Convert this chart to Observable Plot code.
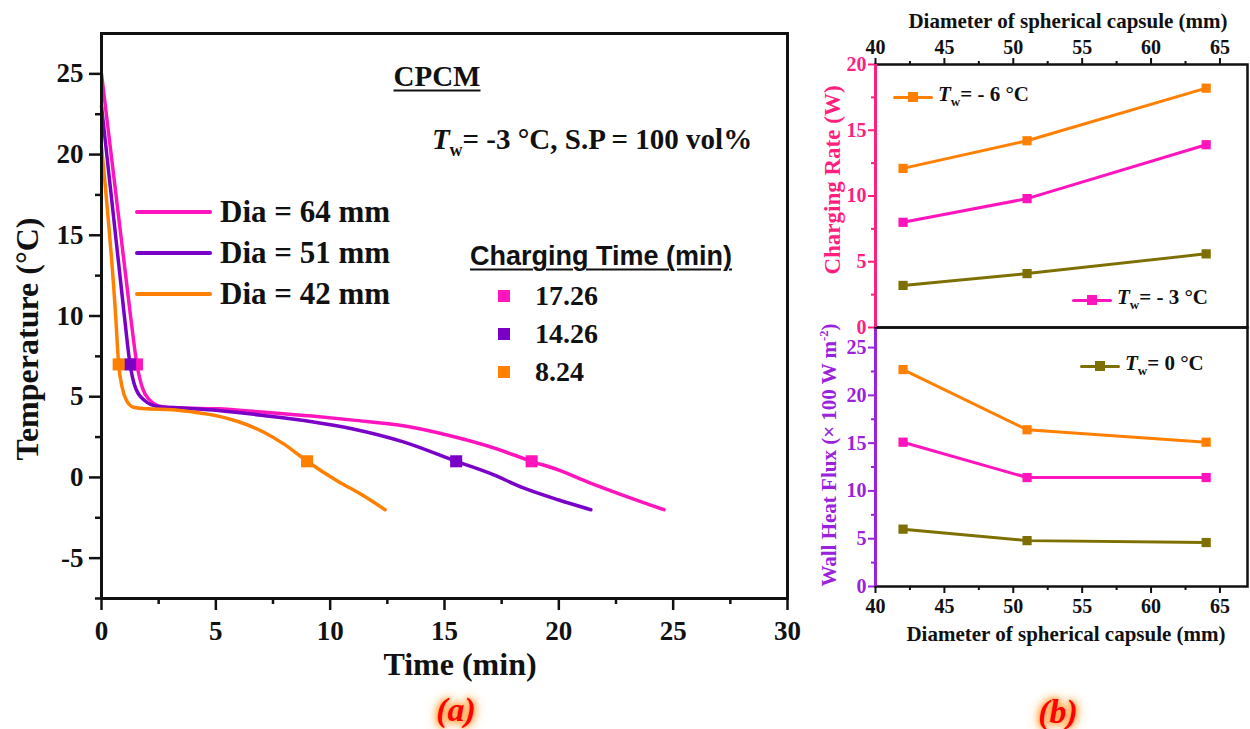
<!DOCTYPE html>
<html>
<head>
<meta charset="utf-8">
<script src="https://cdn.jsdelivr.net/npm/d3@7"></script>
<script src="https://cdn.jsdelivr.net/npm/@observablehq/plot@0.6"></script>
<style>
  body { margin: 0; background: #fff; }
  #fig { position: relative; width: 1250px; height: 729px; overflow: hidden;
         font-family: "Liberation Serif", "Times New Roman", serif; font-weight: bold; color: #111; }
  .panel { position: absolute; left: 0; top: 0; }
  .panel svg text { font-family: "Liberation Serif", "Times New Roman", serif !important; font-weight: bold !important; }
  .t { position: absolute; white-space: nowrap; line-height: 1; }
  .c { transform: translate(-50%, -50%); }
  .rot { transform: translate(-50%, -50%) rotate(-90deg); }
  .sw { position: absolute; }
  .ul { text-decoration: underline; text-decoration-thickness: 2px; text-underline-offset: 4px; }
  .tag { color: #ff0000; font-style: italic; font-size: 34px;
         text-shadow: 0 0 3px #ffb35c, 0 0 6px #ff9a30, 0 0 10px #ff9a30, 0 0 16px #ffc080; }
  sub.w { font-size: 0.62em; vertical-align: -0.35em; font-style: normal; }
</style>
</head>
<body>
<div id="fig"></div>
<script>
// ---------- (a) temperature history of the PCM for three capsule diameters ----------
const time64 = [0, 1.27, 1.55, 1.8, 2.1, 2.6, 3.5, 5.1, 7, 9.2, 11, 13.2, 15.2, 17, 18.81, 20, 21.3, 23, 24.6];
const temp64 = [25, 10, 7, 5.5, 4.8, 4.4, 4.3, 4.25, 4.05, 3.8, 3.55, 3.2, 2.6, 1.9, 1.0, 0.45, -0.3, -1.2, -2.0];
const time51 = [0, 1.0, 1.25, 1.5, 1.9, 2.45, 3.5, 5.1, 7, 9.2, 11, 13.2, 15.51, 17, 18.45, 20, 21.4];
const temp51 = [23, 10, 7, 5.5, 4.75, 4.4, 4.3, 4.15, 3.85, 3.45, 3.0, 2.2, 1.0, 0.25, -0.65, -1.4, -2.0];
const time42 = [0, 0.62, 0.75, 0.9, 1.1, 1.4, 2, 3.1, 4, 5.1, 6, 7.1, 8, 8.99, 10.35, 11.3, 12.4];
const temp42 = [20.5, 10, 7, 5.6, 4.75, 4.35, 4.25, 4.2, 4.05, 3.8, 3.45, 2.8, 2.05, 1.0, -0.25, -1.0, -2.0];

const diaLabels = ["Dia = 64 mm", "Dia = 51 mm", "Dia = 42 mm"];
const chargingTimes = [17.26, 14.26, 8.24];   // min, between the two marked temperatures
const chargeStart = [1.55, 1.25, 0.75];       // min, when each curve passes the upper mark
const markTemps = [7, 1];                     // °C

const timeTicks = [0, 5, 10, 15, 20, 25, 30];
const timeMinor = [2.5, 7.5, 12.5, 17.5, 22.5, 27.5];
const tempTicks = [-5, 0, 5, 10, 15, 20, 25];
const tempMinor = [-7.5, -2.5, 2.5, 7.5, 12.5, 17.5, 22.5];

// ---------- (b) charging rate and wall heat flux vs capsule diameter ----------
const diameters = [42, 51, 64];
const wallTemps = ["- 6", "- 3", "0"];
const rateTwm6 = [12.1, 14.2, 18.2];
const rateTwm3 = [8.0, 9.8, 13.9];
const rateTw0 = [3.2, 4.1, 5.6];
const fluxTwm6 = [22.7, 16.4, 15.1];
const fluxTwm3 = [15.1, 11.4, 11.4];
const fluxTw0 = [6.0, 4.8, 4.6];

const diaTicks = [40, 45, 50, 55, 60, 65];
const diaMinor = [42.5, 47.5, 52.5, 57.5, 62.5];
const rateTicks = [0, 5, 10, 15, 20];
const rateMinor = [2.5, 7.5, 12.5, 17.5];
const fluxTicks = [0, 5, 10, 15, 20, 25];
const fluxMinor = [2.5, 7.5, 12.5, 17.5, 22.5];

const PINK = "#ff14bd", PURPLE = "#7a00c8", ORANGE = "#ff8000", OLIVE = "#7d7000";
const AX_PINK = "#ff1f7f", AX_PURPLE = "#9a22dd";
const curveColors = [PINK, PURPLE, ORANGE];
const wallColors = [ORANGE, PINK, OLIVE];

const fig = document.getElementById("fig");
const SERIF = '"Liberation Serif", "Times New Roman", serif';
const svgStyle = { fontFamily: SERIF, fontWeight: "bold", background: "transparent", overflow: "visible", color: "#111" };
const tickText = size => ({ fontFamily: SERIF, fontWeight: "bold", fontSize: size, tickFormat: d => String(d), label: null });

function rows(xs, ys) { return xs.map((x, i) => ({ x, y: ys[i] })); }

// ---- panel (a) ----
const curves = [rows(time64, temp64), rows(time51, temp51), rows(time42, temp42)];
const marks = chargeStart.map((t0, i) => [
  { x: t0, y: markTemps[0] },
  { x: t0 + chargingTimes[i], y: markTemps[1] }
]);

const plotA = Plot.plot({
  width: 800, height: 729,
  marginLeft: 101, marginRight: 13, marginTop: 33, marginBottom: 131,
  style: svgStyle,
  x: { domain: [0, 30] },
  y: { domain: [-7.5, 27.5] },
  marks: [
    Plot.axisX({ ticks: timeTicks, tickSize: 12, tickPadding: 10, strokeWidth: 2.5, ...tickText(27) }),
    Plot.axisX({ ticks: timeMinor, tickSize: 6, strokeWidth: 2.5, fill: "none", label: null }),
    Plot.axisY({ ticks: tempTicks, tickSize: 12, tickPadding: 6, strokeWidth: 2.5, ...tickText(27) }),
    Plot.axisY({ ticks: tempMinor, tickSize: 6, strokeWidth: 2.5, fill: "none", label: null }),
    ...curves.map((c, i) => Plot.line(c, { x: "x", y: "y", stroke: curveColors[i], strokeWidth: 3.5, curve: "monotone-x" })),
    ...marks.map((m, i) => Plot.dot(m, { x: "x", y: "y", fill: curveColors[i], symbol: "square", r: 6.8 })),
    Plot.frame({ stroke: "#111", strokeWidth: 3 })
  ]
});

// ---- panel (b) ----
const rateSeries = [rateTwm6, rateTwm3, rateTw0];
const fluxSeries = [fluxTwm6, fluxTwm3, fluxTw0];

function seriesMarks(list) {
  return list.flatMap((vals, i) => {
    const d = rows(diameters, vals);
    return [
      Plot.line(d, { x: "x", y: "y", stroke: wallColors[i], strokeWidth: 3 }),
      Plot.dot(d, { x: "x", y: "y", fill: wallColors[i], symbol: "square", r: 5.2 })
    ];
  });
}

const plotB1 = Plot.plot({
  width: 450, height: 729,
  marginLeft: 75, marginRight: 3, marginTop: 64, marginBottom: 729 - 327,
  style: svgStyle,
  x: { domain: [40, 67] },
  y: { domain: [0, 20] },
  marks: [
    Plot.axisX({ anchor: "top", ticks: diaTicks, tickSize: 7, tickPadding: 4, strokeWidth: 2, ...tickText(20) }),
    Plot.axisX({ anchor: "top", ticks: diaMinor, tickSize: 4, strokeWidth: 2, fill: "none", label: null }),
    Plot.axisY({ ticks: rateTicks, tickSize: 7, tickPadding: 2, strokeWidth: 2, color: AX_PINK, ...tickText(20) }),
    Plot.axisY({ ticks: rateMinor, tickSize: 4, strokeWidth: 2, stroke: AX_PINK, fill: "none", label: null }),
    ...seriesMarks(rateSeries),
    Plot.frame({ stroke: "#111", strokeWidth: 2.5 }),
    Plot.ruleX([40], { stroke: AX_PINK, strokeWidth: 3 })
  ]
});

const plotB2 = Plot.plot({
  width: 450, height: 729,
  marginLeft: 75, marginRight: 3, marginTop: 327, marginBottom: 729 - 586,
  style: svgStyle,
  x: { domain: [40, 67] },
  y: { domain: [0, 27.1] },
  marks: [
    Plot.axisX({ ticks: diaTicks, tickSize: 7, tickPadding: 5, strokeWidth: 2, ...tickText(20) }),
    Plot.axisX({ ticks: diaMinor, tickSize: 4, strokeWidth: 2, fill: "none", label: null }),
    Plot.axisY({ ticks: fluxTicks, tickSize: 7, tickPadding: 2, strokeWidth: 2, color: AX_PURPLE, ...tickText(20) }),
    Plot.axisY({ ticks: fluxMinor, tickSize: 4, strokeWidth: 2, stroke: AX_PURPLE, fill: "none", label: null }),
    ...seriesMarks(fluxSeries),
    Plot.frame({ stroke: "#111", strokeWidth: 2.5 }),
    Plot.ruleX([40], { stroke: AX_PURPLE, strokeWidth: 3 })
  ]
});

function place(node, left, top) {
  const d = document.createElement("div");
  d.className = "panel";
  d.style.left = left + "px";
  d.style.top = top + "px";
  d.appendChild(node);
  fig.appendChild(d);
  // tick labels in the same bold serif face as the rest of the figure
  d3.select(node).selectAll("text").style("font-family", SERIF).style("font-weight", "bold");
}
place(plotA, 0, 0);
place(plotB2, 800, 0);
place(plotB1, 800, 0);

// ---- text, titles and legends ----
function text(html, x, y, cls, css) {
  const d = document.createElement("div");
  d.className = "t " + (cls || "");
  d.innerHTML = html;
  d.style.left = x + "px";
  d.style.top = y + "px";
  Object.assign(d.style, css || {});
  fig.appendChild(d);
  return d;
}
function swatchLine(x, y, w, color, h) {
  const d = document.createElement("div");
  d.className = "sw";
  Object.assign(d.style, { left: x + "px", top: (y - h / 2) + "px", width: w + "px", height: h + "px",
                           background: color, borderRadius: (h / 2) + "px" });
  fig.appendChild(d);
}
function swatchSquare(x, y, s, color) {
  const d = document.createElement("div");
  d.className = "sw";
  Object.assign(d.style, { left: (x - s / 2) + "px", top: (y - s / 2) + "px", width: s + "px", height: s + "px",
                           background: color });
  fig.appendChild(d);
}
const tw = v => `<i>T</i><sub class="w">w</sub>= ${v} °C`;

// axis titles
text("Temperature (°C)", 27, 339, "rot", { fontSize: "32px" });
text("Time (min)", 460, 664, "c", { fontSize: "32px" });
text("Charging Rate (W)", 832, 180, "rot", { fontSize: "23px", color: AX_PINK });
text("Wall Heat Flux (× 100 W m<sup style='font-size:0.6em'>-2</sup>)", 829, 455, "rot",
     { fontSize: "21px", color: AX_PURPLE });
text("Diameter of spherical capsule (mm)", 1068, 21, "c", { fontSize: "21px" });
text("Diameter of spherical capsule (mm)", 1066, 634, "c", { fontSize: "21px" });
text("(a)", 456, 710, "c tag");
text("(b)", 1058, 712, "c tag");

// panel (a) annotations
text("CPCM", 437, 76, "c ul", { fontSize: "29px" });
text(tw("-3") + ", S.P = 100 vol%", 592, 142, "c", { fontSize: "29px" });

const legendY = [212, 253, 294];
diaLabels.forEach((lab, i) => {
  swatchLine(135, legendY[i], 77, curveColors[i], 4);
  text(lab, 220, legendY[i], "", { fontSize: "31px", transform: "translateY(-52%)" });
});

text("Charging Time (min)", 601, 256, "c ul",
     { fontSize: "27px", fontFamily: '"Liberation Sans", Arial, sans-serif' });
const ctY = [296, 334, 372];
chargingTimes.forEach((v, i) => {
  swatchSquare(504, ctY[i], 12, curveColors[i]);
  text(v.toFixed(2), 535, ctY[i], "", { fontSize: "28px", transform: "translateY(-50%)" });
});

// panel (b) legends
const bLegend = [
  { x: 893, y: 97, color: ORANGE, label: tw(wallTemps[0]) },
  { x: 1072, y: 300, color: PINK, label: tw(wallTemps[1]) },
  { x: 1080, y: 366, color: OLIVE, label: tw(wallTemps[2]) }
];
bLegend.forEach(l => {
  swatchLine(l.x, l.y, 40, l.color, 3);
  swatchSquare(l.x + 20, l.y, 10, l.color);
  text(l.label, l.x + 45, l.y, "", { fontSize: "21px", transform: "translateY(-55%)" });
});
</script>
</body>
</html>
